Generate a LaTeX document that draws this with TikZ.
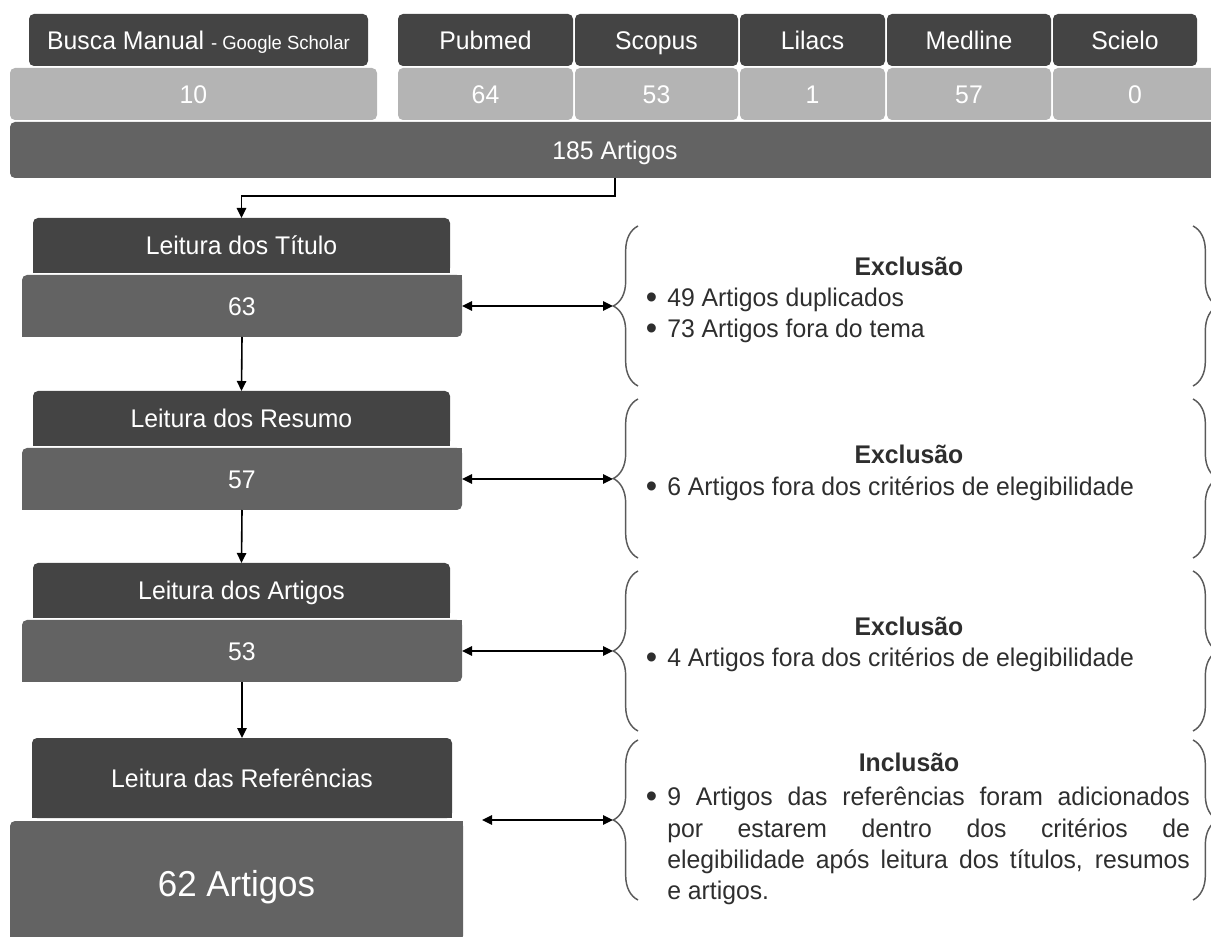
\documentclass[tikz,border=0pt]{standalone}
\usepackage{fontspec}
\setmainfont{Liberation Sans}[FakeStretch=0.97]
\usetikzlibrary{fit,arrows.meta,decorations.pathreplacing}
\definecolor{hdr}{HTML}{444444}
\definecolor{midg}{HTML}{636363}
\definecolor{lite}{HTML}{B4B4B4}
\definecolor{brc}{HTML}{5A5A5A}
\definecolor{txt}{HTML}{2E2E2E}
\newcommand{\bul}{\llap{\raisebox{-1.8pt}{\fontsize{25}{25}\selectfont\textbullet}\hspace{7.5pt}}}
\begin{document}
\begin{tikzpicture}[x=0.75pt,y=-0.75pt,
  box/.style={inner sep=0pt, outer sep=0pt, rounded corners=3.75pt},
  hdrbox/.style={box, fill=hdr},
  litebox/.style={box, fill=lite},
  midbox/.style={box, fill=midg},
  lbl/.style={inner sep=0pt, anchor=base, yshift=-6.9pt, text=white, font=\fontsize{19.15}{22}\selectfont},
  biglbl/.style={inner sep=0pt, anchor=base, yshift=-9.6pt, text=white, font=\fontsize{27}{32}\selectfont},
  arr/.style={line width=1.2pt, -{Triangle[length=7.5pt,width=7pt]}},
  darr/.style={line width=1.2pt, {Triangle[length=7.5pt,width=7pt]}-{Triangle[length=7.5pt,width=7pt]}},
  bracestyle/.style={draw=brc, line width=1.1pt, decorate, decoration={brace, amplitude=18.5pt}},
  headtxt/.style={inner sep=0pt, anchor=base, text=txt, font=\fontsize{19.15}{22}\selectfont\bfseries},
  itemtxt/.style={inner sep=0pt, anchor=base west, text=txt, font=\fontsize{19.15}{23.6}\selectfont},
  ]
\useasboundingbox (0,0) rectangle (1211,937);

% ---- top row: headers
\node[hdrbox, fit={(29,14)(368,66)}] (hB) {};
\node[hdrbox, fit={(398,14)(573,66)}] (hP) {};
\node[hdrbox, fit={(575,14)(738,66)}] (hS) {};
\node[hdrbox, fit={(740,14)(885,66)}] (hL) {};
\node[hdrbox, fit={(887,14)(1051,66)}] (hM) {};
\node[hdrbox, fit={(1053,14)(1197,66)}] (hE) {};
\node[lbl] (hBl) at (hB.center) {Busca Manual {\fontsize{14.3}{16}\selectfont - Google Scholar}};
\node[lbl] (hPl) at (hP.center) {Pubmed};
\node[lbl] (hSl) at (hS.center) {Scopus};
\node[lbl] (hLl) at (hL.center) {Lilacs};
\node[lbl] (hMl) at (hM.center) {Medline};
\node[lbl] (hEl) at (hE.center) {Scielo};
% ---- top row: values
\node[litebox, fit={(10,68)(377,120)}] (vB) {};
\node[litebox, fit={(398,68)(573,120)}] (vP) {};
\node[litebox, fit={(575,68)(738,120)}] (vS) {};
\node[litebox, fit={(740,68)(885,120)}] (vL) {};
\node[litebox, fit={(887,68)(1051,120)}] (vM) {};
\node[litebox, fit={(1053,68)(1217,120)}] (vE) {};
\node[lbl] (vBl) at (vB.center) {10};
\node[lbl] (vPl) at (vP.center) {64};
\node[lbl] (vSl) at (vS.center) {53};
\node[lbl] (vLl) at (vL.center) {1};
\node[lbl] (vMl) at (vM.center) {57};
\node[lbl] (vEl) at (vE.center) {0};
% ---- total bar
\node[midbox, fit={(10,122)(1220,178)}] (tot) {};
\node[lbl] (totl) at (tot.center) {185 Artigos};

% ---- left column
\node[hdrbox, fit={(33,218)(450,273)}] (t1) {};
\fill[hdr] (t1.south west) rectangle ++(6,-6);
\fill[hdr] (t1.south east) rectangle ++(-6,-6);
\node[midbox, fit={(22,275)(462,337)}] (v1) {};
\fill[midg] (v1.north east) rectangle ++(-6,6);
\fill[midg] (v1.south west) rectangle ++(6,-6);
\node[lbl] (t1l) at (t1.center) {Leitura dos Título};
\node[lbl] (v1l) at (v1.center) {63};

\node[hdrbox, fit={(33,391)(450,446)}] (t2) {};
\fill[hdr] (t2.south west) rectangle ++(6,-6);
\fill[hdr] (t2.south east) rectangle ++(-6,-6);
\node[midbox, fit={(22,448)(462,510)}] (v2) {};
\fill[midg] (v2.north east) rectangle ++(-6,6);
\fill[midg] (v2.south west) rectangle ++(6,-6);
\node[lbl] (t2l) at (t2.center) {Leitura dos Resumo};
\node[lbl] (v2l) at (v2.center) {57};

\node[hdrbox, fit={(33,563)(450,618)}] (t3) {};
\fill[hdr] (t3.south west) rectangle ++(6,-6);
\fill[hdr] (t3.south east) rectangle ++(-6,-6);
\node[midbox, fit={(22,620)(462,682)}] (v3) {};
\fill[midg] (v3.north east) rectangle ++(-6,6);
\fill[midg] (v3.south west) rectangle ++(6,-6);
\node[lbl] (t3l) at (t3.center) {Leitura dos Artigos};
\node[lbl] (v3l) at (v3.center) {53};

\node[hdrbox, fit={(32,738)(452,818)}] (t4) {};
\fill[hdr] (t4.south west) rectangle ++(6,-6);
\fill[hdr] (t4.south east) rectangle ++(-6,-6);
\node[midbox, fit={(10,821)(463,941)}] (v4) {};
\fill[midg] (v4.north east) rectangle ++(-6,6);
\fill[midg] (v4.south west) rectangle ++(6,-6);
\node[lbl] (t4l) at (t4.center) {Leitura das Referências};
\node[biglbl] (v4l) at ([yshift=-2.2pt]v4.center) {62 Artigos};

% ---- vertical flow arrows
\draw[arr] (tot.south) -- ++(0,18) -| (t1.north);
\draw[arr] (v1.south) -- (t2.north);
\draw[arr] (v2.south) -- (t3.north);
\draw[arr] (v3.south) -- (t4.north);

% ---- braces
\draw[bracestyle] (638,386) -- (638,226);
\draw[bracestyle] (1193,226) -- (1193,386);
\draw[bracestyle] (638,558) -- (638,399);
\draw[bracestyle] (1193,399) -- (1193,558);
\draw[bracestyle] (638,731) -- (638,571);
\draw[bracestyle] (1193,571) -- (1193,731);
\draw[bracestyle] (638,900) -- (638,740);
\draw[bracestyle] (1193,740) -- (1193,900);

\coordinate (b1) at (613,306);
\coordinate (b2) at (613,479);
\coordinate (b3) at (613,651);
\coordinate (b4) at (613,820);
\coordinate (r4) at (482,820);

\draw[darr] (v1.east) -- (b1);
\draw[darr] (v2.east) -- (b2);
\draw[darr] (v3.east) -- (b3);
\draw[darr] (r4) -- (b4);

% ---- right texts
\node[headtxt] (e1) at (909,275.6) {Exclusão};
\node[itemtxt] (e1a) at (667,306.6) {\bul 49 Artigos duplicados};
\node[itemtxt] (e1b) at (667,337.6) {\bul 73 Artigos fora do tema};

\node[headtxt] (e2) at (909,463.6) {Exclusão};
\node[itemtxt] (e2a) at (667,495.6) {\bul 6 Artigos fora dos critérios de elegibilidade};

\node[headtxt] (e3) at (909,635.6) {Exclusão};
\node[itemtxt] (e3a) at (667,666.6) {\bul 4 Artigos fora dos critérios de elegibilidade};

\node[headtxt] (i4) at (909,771.6) {Inclusão};
\node[itemtxt, text width=392pt, align=justify] (i4a) at (667,805.6) {\bul 9 Artigos das referências foram adicionados\linebreak por estarem dentro dos critérios de\linebreak elegibilidade após leitura dos títulos, resumos\linebreak e artigos.};
\end{tikzpicture}
\end{document}
